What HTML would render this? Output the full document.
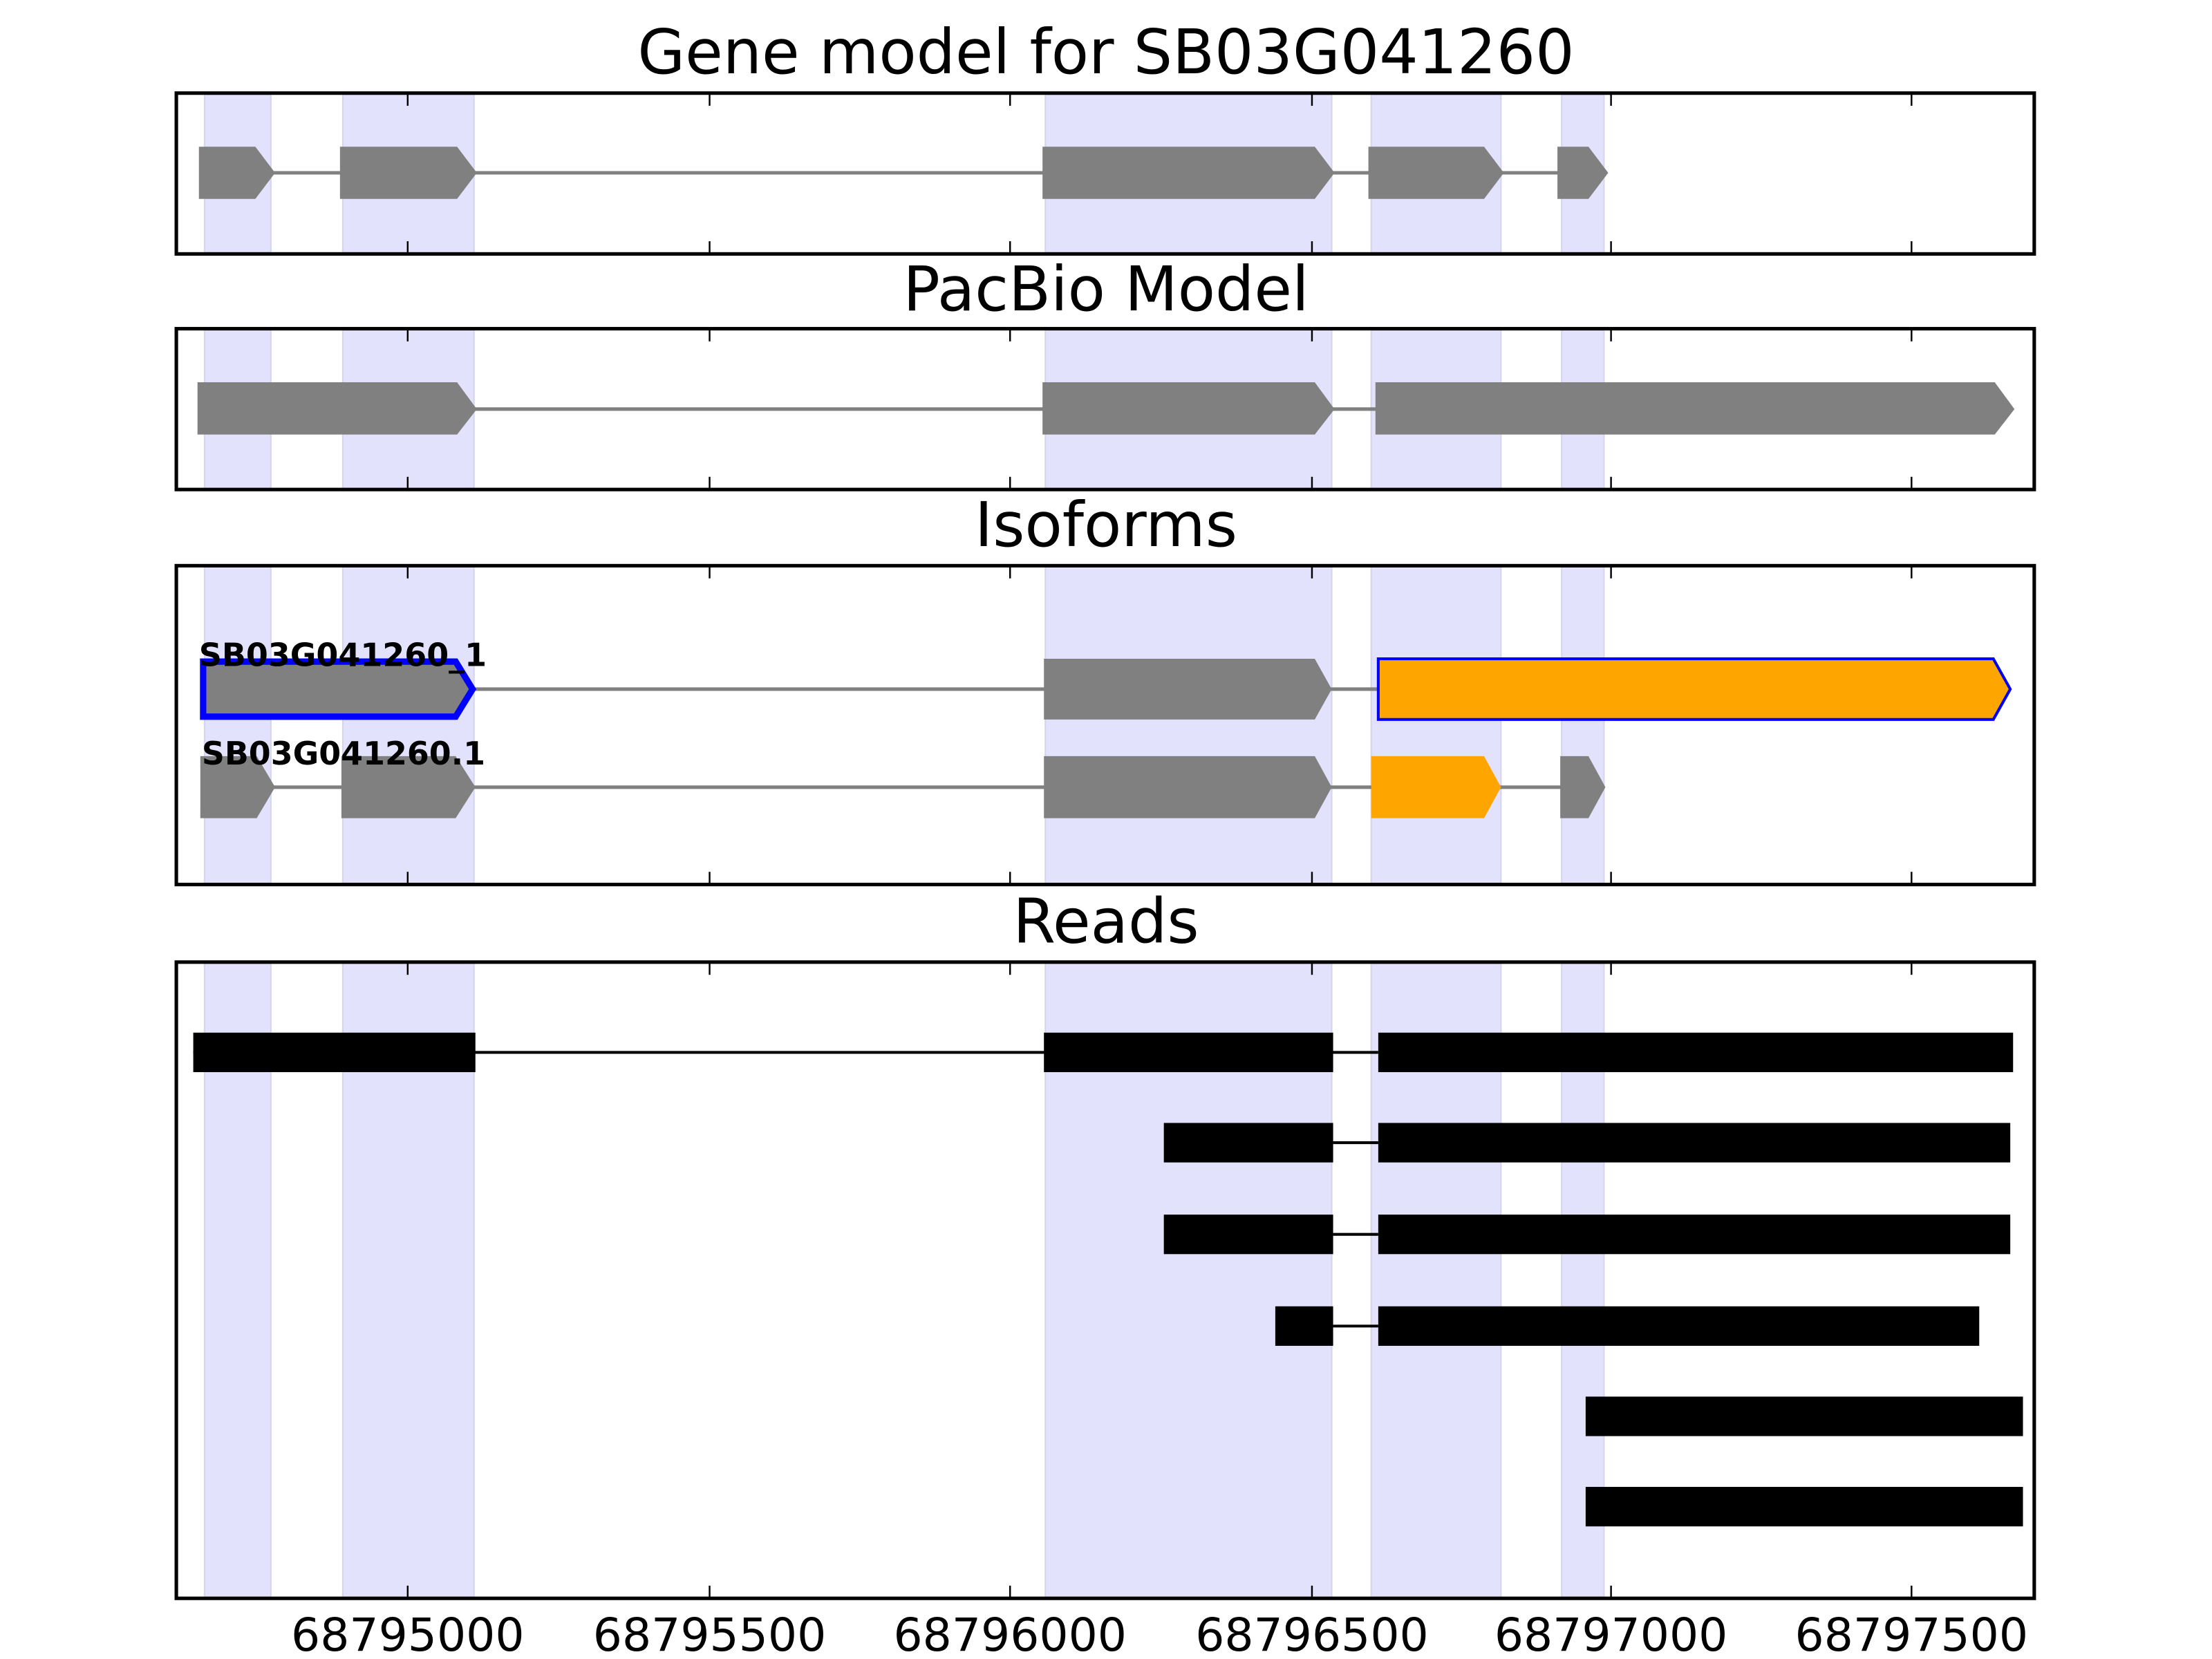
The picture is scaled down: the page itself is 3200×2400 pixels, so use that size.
<!DOCTYPE html>
<html><head><meta charset="utf-8"><style>html,body{margin:0;padding:0;background:#fff;overflow:hidden;width:3200px;height:2400px}svg{display:block}</style></head>
<body>
<svg width="3200" height="2400" viewBox="0 0 1568 1176" xmlns="http://www.w3.org/2000/svg" font-family="DejaVu Sans, Liberation Sans, sans-serif">
<defs>
<g id="shade">
<rect x="145" width="47" height="1000" fill="#e2e2fc" stroke="#d4d4ec" stroke-width="1"/>
<rect x="243" width="93" height="1000" fill="#e2e2fc" stroke="#d4d4ec" stroke-width="1"/>
<rect x="741" width="203" height="1000" fill="#e2e2fc" stroke="#d4d4ec" stroke-width="1"/>
<rect x="972" width="92" height="1000" fill="#e2e2fc" stroke="#d4d4ec" stroke-width="1"/>
<rect x="1107" width="30" height="1000" fill="#e2e2fc" stroke="#d4d4ec" stroke-width="1"/>
</g>
<clipPath id="c1"><rect x="125" y="66" width="1317" height="114"/></clipPath>
<clipPath id="c2"><rect x="125" y="233" width="1317" height="114"/></clipPath>
<clipPath id="c3"><rect x="125" y="401" width="1317" height="226"/></clipPath>
<clipPath id="c4"><rect x="125" y="682" width="1317" height="451"/></clipPath>
<g id="ticks" stroke="#000" stroke-width="1.2">
<line x1="289" x2="289" y1="0" y2="8"/><line x1="503" x2="503" y1="0" y2="8"/><line x1="716" x2="716" y1="0" y2="8"/><line x1="930" x2="930" y1="0" y2="8"/><line x1="1142" x2="1142" y1="0" y2="8"/><line x1="1355" x2="1355" y1="0" y2="8"/>
</g>
</defs>
<rect width="1568" height="1176" fill="#fff"/>

<g font-size="43.5" text-anchor="middle" fill="#000">
<text x="784" y="52">Gene model for SB03G041260</text>
<text x="784" y="220">PacBio Model</text>
<text x="784" y="387">Isoforms</text>
<text x="784" y="668">Reads</text>
</g>

<!-- Panel 1 -->
<g clip-path="url(#c1)"><use href="#shade" y="66"/></g>
<g fill="#808080" stroke="none">
<line x1="190" x2="1110" y1="122.5" y2="122.5" stroke="#808080" stroke-width="2.5"/>
<polygon points="141,104 181,104 195,122.5 181,141 141,141"/>
<polygon points="241,104 324,104 338,122.5 324,141 241,141"/>
<polygon points="739,104 932,104 946,122.5 932,141 739,141"/>
<polygon points="970,104 1052,104 1066,122.5 1052,141 970,141"/>
<polygon points="1104,104 1126,104 1140,122.5 1126,141 1104,141"/>
</g>
<rect x="125" y="66" width="1317" height="114" fill="none" stroke="#000" stroke-width="2.5"/>
<use href="#ticks" y="67"/><use href="#ticks" transform="translate(0,179) scale(1,-1)"/>

<!-- Panel 2 -->
<g clip-path="url(#c2)"><use href="#shade" y="233"/></g>
<g fill="#808080">
<line x1="330" x2="980" y1="290" y2="290" stroke="#808080" stroke-width="2.5"/>
<polygon points="140,271 324,271 338,290 324,308 140,308"/>
<polygon points="739,271 932,271 946,290 932,308 739,308"/>
<polygon points="975,271 1414,271 1428,290 1414,308 975,308"/>
</g>
<rect x="125" y="233" width="1317" height="114" fill="none" stroke="#000" stroke-width="2.5"/>
<use href="#ticks" y="234"/><use href="#ticks" transform="translate(0,346) scale(1,-1)"/>

<!-- Panel 3 -->
<g clip-path="url(#c3)"><use href="#shade" y="401"/></g>
<line x1="330" x2="980" y1="488.5" y2="488.5" stroke="#808080" stroke-width="2.5"/>
<polygon points="144,469 323,469 335,488.5 323,508 144,508" fill="#808080" stroke="#0000ff" stroke-width="4.5"/>
<polygon points="740,467 932,467 944,488.5 932,510 740,510" fill="#808080"/>
<polygon points="977,467 1413,467 1425,488.5 1413,510 977,510" fill="#ffa500" stroke="#0000ff" stroke-width="2"/>
<line x1="190" x2="1110" y1="558" y2="558" stroke="#808080" stroke-width="2.5"/>
<g fill="#808080">
<polygon points="142,536 182,536 195,558 182,580 142,580"/>
<polygon points="242,536 323,536 337,558 323,580 242,580"/>
<polygon points="740,536 932,536 944,558 932,580 740,580"/>
<polygon points="1106,536 1126,536 1138,558 1126,580 1106,580"/>
</g>
<polygon points="972,536 1052,536 1064,558 1052,580 972,580" fill="#ffa500"/>
<g font-size="22.5" font-weight="bold" fill="#000">
<text x="141" y="472" textLength="204" lengthAdjust="spacingAndGlyphs">SB03G041260_1</text>
<text x="143" y="542" textLength="201" lengthAdjust="spacingAndGlyphs">SB03G041260.1</text>
</g>
<rect x="125" y="401" width="1317" height="226" fill="none" stroke="#000" stroke-width="2.5"/>
<use href="#ticks" y="402"/><use href="#ticks" transform="translate(0,626) scale(1,-1)"/>

<!-- Panel 4 -->
<g clip-path="url(#c4)"><use href="#shade" y="682"/></g>
<g stroke="#000" stroke-width="2">
<line x1="137" x2="977" y1="746" y2="746"/>
<line x1="945" x2="977" y1="810" y2="810"/>
<line x1="945" x2="977" y1="875" y2="875"/>
<line x1="945" x2="977" y1="940" y2="940"/>
</g>
<g fill="#000">
<rect x="137" y="732" width="200" height="28"/>
<rect x="740" y="732" width="205" height="28"/>
<rect x="977" y="732" width="450" height="28"/>
<rect x="825" y="796" width="120" height="28"/>
<rect x="977" y="796" width="448" height="28"/>
<rect x="825" y="861" width="120" height="28"/>
<rect x="977" y="861" width="448" height="28"/>
<rect x="904" y="926" width="41" height="28"/>
<rect x="977" y="926" width="426" height="28"/>
<rect x="1124" y="990" width="310" height="28"/>
<rect x="1124" y="1054" width="310" height="28"/>
</g>
<rect x="125" y="682" width="1317" height="451" fill="none" stroke="#000" stroke-width="2.5"/>
<use href="#ticks" y="683"/><use href="#ticks" transform="translate(0,1132) scale(1,-1)"/>

<g font-size="32.5" text-anchor="middle" fill="#000">
<text x="289" y="1170">68795000</text>
<text x="503" y="1170">68795500</text>
<text x="716" y="1170">68796000</text>
<text x="930" y="1170">68796500</text>
<text x="1142" y="1170">68797000</text>
<text x="1355" y="1170">68797500</text>
</g>
</svg>
</body></html>
